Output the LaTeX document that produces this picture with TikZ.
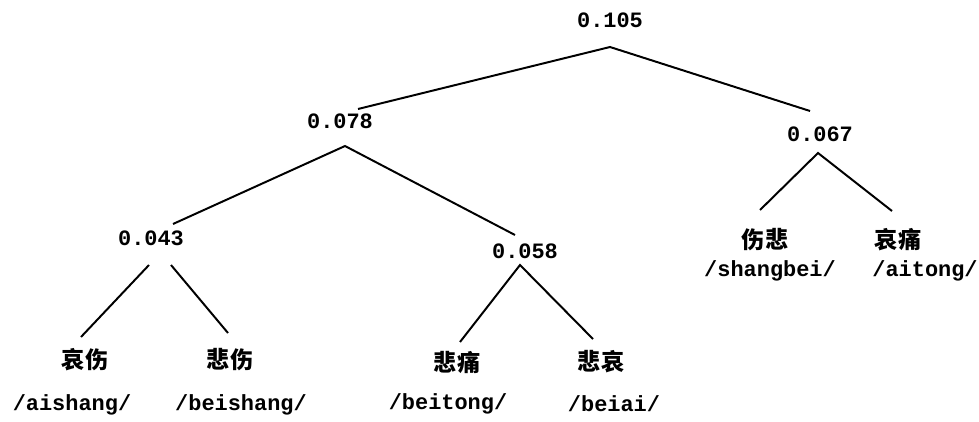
\documentclass[tikz,border=0pt]{standalone}
\usepackage{fontspec}
\setmainfont{Liberation Mono}
\newfontfamily\cjk{Noto Sans CJK SC}
\usetikzlibrary{positioning}

\tikzset{
  val/.style={font=\bfseries\fontsize{15.6}{18}\selectfont, inner sep=0pt},
  word/.style={font=\cjk\bfseries\fontsize{16.5}{18}\selectfont, inner sep=0pt},
  pinyin/.style={font=\bfseries\fontsize{15.6}{18}\selectfont, inner sep=0pt},
  branch/.style={line width=1.4pt}
}

\begin{document}
\begin{tikzpicture}[x=0.025cm, y=-0.025cm]
    \useasboundingbox (0,0) rectangle (979,421);

    % cluster values
    \node[val] (root) at (610,20) {0.105};
    \node[val] (n078) at (340,121) {0.078};
    \node[val] (n067) at (820,134) {0.067};
    \node[val] (n043) at (151,238) {0.043};
    \node[val] (n058) at (525,251) {0.058};

    % words
    \node[word] (aishang) at (85,360) {哀伤};
    \node[word] (beishang) at (230,360) {悲伤};
    \node[word] (beitong) at (457,362) {悲痛};
    \node[word] (beiai) at (601,362) {悲哀};
    \node[word] (shangbei) at (765,240) {伤悲};
    \node[word] (aitong) at (898,240) {哀痛};

    \node[pinyin] (Paishang) at (72,405) {/aishang/};
    \node[pinyin] (Pbeishang) at (241,405) {/beishang/};
    \node[pinyin] (Pbeitong) at (448,404) {/beitong/};
    \node[pinyin] (Pbeiai) at (614,404) {/beiai/};
    \node[pinyin] (Pshangbei) at (770,271) {/shangbei/};
    \node[pinyin] (Paitong) at (925,271) {/aitong/};

    \draw[branch] ([shift={(18,-12)}]n078.center) -- ([shift={(0,27)}]root.center)
                  -- ([shift={(-10,-23)}]n067.center);
    \draw[branch] ([shift={(22,-14)}]n043.center) -- ([shift={(5,25)}]n078.center)
                  -- ([shift={(-10,-16)}]n058.center);
    \draw[branch] ([shift={(-5,-30)}]shangbei.center) -- ([shift={(-2,19)}]n067.center)
                  -- ([shift={(-6,-29)}]aitong.center);
    \draw[branch] ([shift={(-2,27)}]n043.center) -- ([shift={(-4,-23)}]aishang.center);
    \draw[branch] ([shift={(20,27)}]n043.center) -- ([shift={(-2,-27)}]beishang.center);
    \draw[branch] ([shift={(3,-20)}]beitong.center) -- ([shift={(-5,14)}]n058.center)
                  -- ([shift={(-8,-23)}]beiai.center);
\end{tikzpicture}
\end{document}
